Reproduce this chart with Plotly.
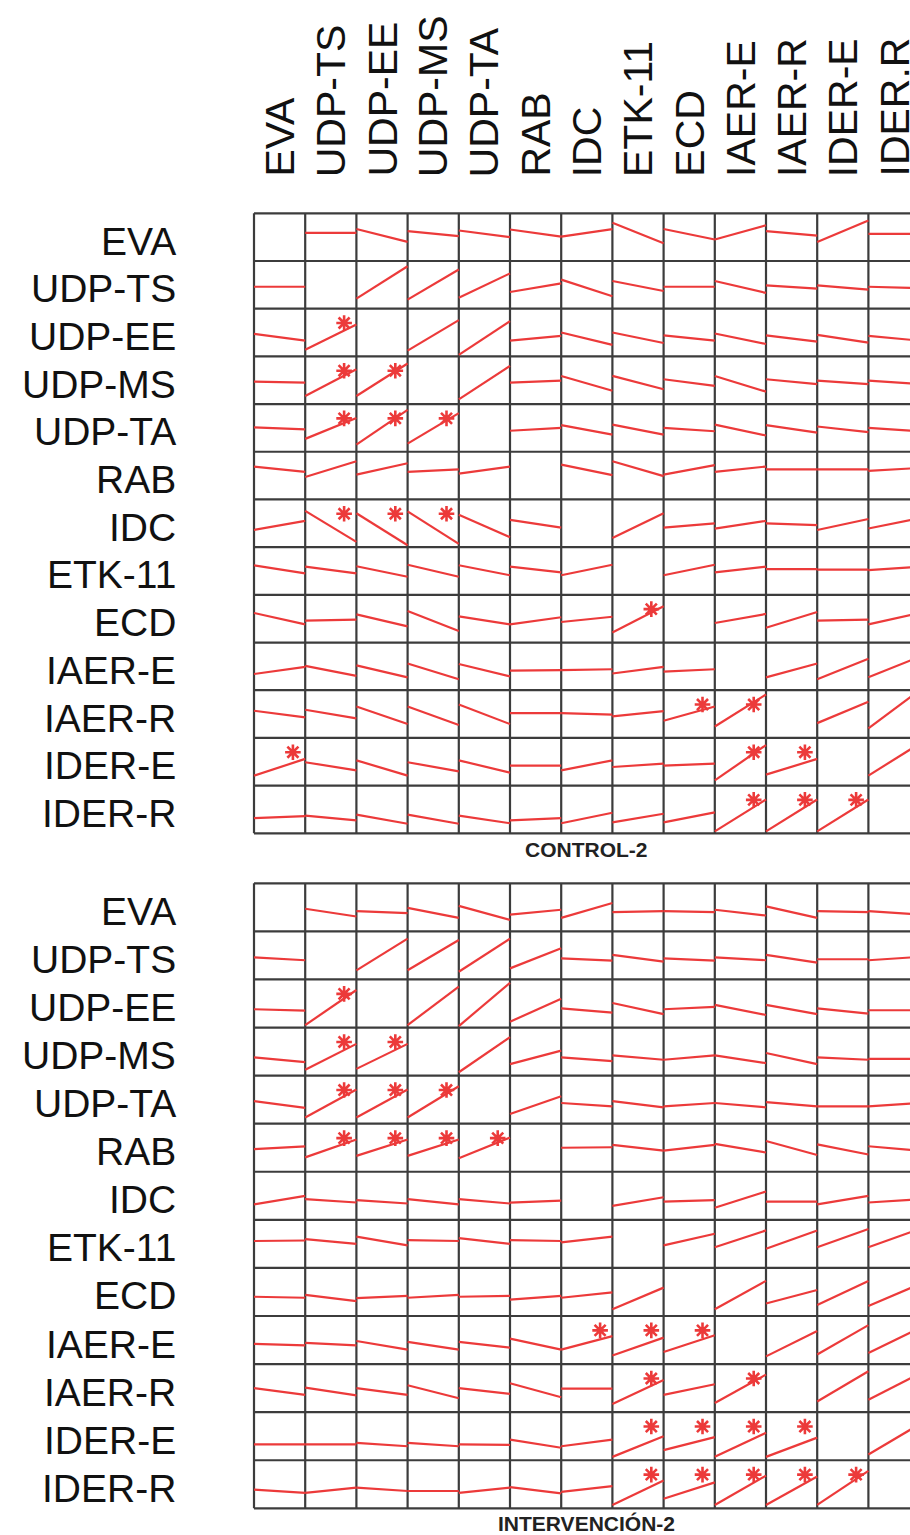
import plotly.graph_objects as go

# ---------------- data ----------------
row_labels = ["EVA", "UDP-TS", "UDP-EE", "UDP-MS", "UDP-TA", "RAB", "IDC",
              "ETK-11", "ECD", "IAER-E", "IAER-R", "IDER-E", "IDER-R"]
col_labels = ["EVA", "UDP-TS", "UDP-EE", "UDP-MS", "UDP-TA", "RAB", "IDC",
              "ETK-11", "ECD", "IAER-E", "IAER-R", "IDER-E", "IDER.R"]
panel_titles = ["CONTROL-2", "INTERVENCIÓN-2"]
N = None

# line height at left / right edge of each cell (fraction of cell height, from bottom)
control_left = [
    [N, .59, .67, .625, .64, .66, .51, .80, .67, .45, .625, .40, .57],
    [.46, N, .21, .19, .23, .35, .61, .58, .46, .58, .49, .49, .46],
    [.47, .14, N, .12, .03, .33, .50, .50, .44, .48, .44, .45, .43],
    [.47, .17, .17, N, .10, .45, .59, .59, .52, .59, .52, .49, .49],
    [.51, .27, .15, .17, N, .44, .56, .57, .50, .57, .56, .53, .50],
    [.69, .47, .52, .58, .54, N, .73, .80, .52, .58, .63, .63, .60],
    [.36, .76, .71, .75, .68, .57, N, .19, .41, .39, .50, .36, .39],
    [.62, .59, .60, .63, .62, .59, .41, N, .41, .47, .54, .53, .52],
    [.62, .46, .59, .66, .55, .38, .43, .21, N, .41, .31, .46, .38],
    [.34, .51, .52, .56, .55, .41, .42, .35, .39, N, .27, .23, .27],
    [.57, .59, .66, .66, .70, .52, .52, .45, .36, .24, N, .31, .20],
    [.21, .49, .53, .49, .53, .42, .32, .39, .42, .11, .23, N, .21],
    [.32, .37, .39, .39, .37, .27, .21, .23, .23, .04, .04, .04, N],
]
control_right = [
    [N, .59, .40, .52, .50, .51, .67, .37, .45, .75, .53, .85, .57],
    [.46, N, .89, .82, .74, .53, .26, .37, .46, .33, .42, .40, .43],
    [.33, .67, N, .76, .74, .43, .24, .28, .33, .26, .31, .29, .33],
    [.45, .73, .85, N, .80, .49, .28, .31, .38, .26, .42, .42, .42],
    [.47, .71, .88, .81, N, .50, .36, .36, .43, .34, .40, .41, .43],
    [.58, .80, .76, .63, .69, N, .51, .49, .72, .69, .63, .63, .66],
    [.55, .11, .04, .07, .21, .41, N, .71, .50, .55, .46, .59, .61],
    [.45, .45, .38, .38, .41, .47, .63, N, .63, .59, .54, .53, .59],
    [.38, .48, .34, .24, .38, .53, .54, .76, N, .60, .64, .48, .62],
    [.49, .30, .27, .23, .29, .42, .44, .49, .44, N, .56, .66, .70],
    [.43, .41, .29, .27, .29, .52, .49, .56, .66, .91, N, .76, 1.0],
    [.56, .32, .21, .30, .27, .42, .53, .46, .46, .85, .56, N, .88],
    [.36, .27, .20, .20, .21, .32, .43, .41, .44, .71, .71, .71, N],
]
control_signif = [(2, 1), (3, 1), (3, 2), (4, 1), (4, 2), (4, 3), (6, 1), (6, 2), (6, 3),
                  (8, 7), (10, 8), (10, 9), (11, 0), (11, 9), (11, 10),
                  (12, 9), (12, 10), (12, 11)]

interv_left = [
    [N, .47, .42, .49, .53, .35, .28, .40, .42, .45, .52, .42, .42],
    [.46, N, .19, .19, .16, .23, .44, .51, .44, .46, .51, .42, .40],
    [.38, .05, N, .05, .03, .12, .40, .51, .38, .47, .47, .40, .36],
    [.38, .12, .14, N, .07, .24, .38, .42, .33, .42, .47, .38, .35],
    [.47, .13, .13, .13, N, .20, .43, .47, .36, .43, .45, .36, .36],
    [.47, .30, .33, .33, .28, N, .50, .56, .44, .58, .64, .57, .53],
    [.32, .43, .41, .43, .43, .36, N, .29, .38, .25, .38, .32, .36],
    [.56, .60, .65, .58, .62, .58, .53, N, .47, .43, .40, .43, .43],
    [.40, .44, .37, .38, .40, .34, .38, .14, N, .14, .26, .23, .21],
    [.42, .44, .48, .46, .46, .53, .30, .18, .25, N, .16, .20, .23],
    [.50, .51, .50, .56, .50, .60, .49, .17, .36, .19, N, .22, .26],
    [.33, .33, .36, .36, .33, .43, .29, .07, .21, .07, .07, N, .12],
    [.39, .32, .43, .36, .32, .44, .34, .07, .20, .07, .07, .07, N],
]
interv_right = [
    [N, .31, .38, .28, .24, .45, .59, .42, .40, .33, .28, .40, .35],
    [.40, N, .85, .82, .85, .65, .39, .37, .39, .40, .35, .42, .47],
    [.35, .78, N, .85, .93, .60, .31, .28, .43, .26, .28, .29, .36],
    [.28, .66, .66, N, .80, .52, .30, .33, .42, .26, .24, .33, .35],
    [.33, .71, .71, .78, N, .57, .36, .34, .43, .34, .36, .36, .43],
    [.53, .67, .67, .67, .71, N, .51, .44, .56, .40, .35, .36, .44],
    [.50, .36, .34, .32, .34, .40, N, .47, .41, .59, .38, .50, .43],
    [.57, .50, .47, .56, .50, .56, .65, N, .71, .78, .78, .81, .81],
    [.38, .31, .42, .44, .42, .42, .49, .59, N, .73, .54, .73, .66],
    [.39, .39, .30, .30, .34, .30, .58, .55, .60, N, .69, .81, .75],
    [.36, .35, .36, .29, .38, .31, .49, .67, .58, .78, N, .85, .80],
    [.33, .33, .29, .29, .32, .26, .43, .50, .48, .57, .47, N, .75],
    [.32, .43, .36, .36, .43, .31, .46, .58, .54, .68, .66, .78, N],
]
interv_signif = [(2, 1), (3, 1), (3, 2), (4, 1), (4, 2), (4, 3),
                 (5, 1), (5, 2), (5, 3), (5, 4),
                 (9, 6), (9, 7), (9, 8), (10, 7), (10, 9),
                 (11, 7), (11, 8), (11, 9), (11, 10),
                 (12, 7), (12, 8), (12, 9), (12, 10), (12, 11)]

# ---------------- layout geometry ----------------
W, H = 910, 1535
X0, CW = 254.0, 51.2
GRIDS_PX = [(213.3, 833.3), (883.3, 1508.3)]
PAD = 0.04
NR = len(row_labels)
NC = len(col_labels)
RED = "rgb(236,58,58)"
GRID = "#3c3c3c"
FONT = "Liberation Sans, Arial, sans-serif"

fig = go.Figure()
shapes, annotations = [], []

panels = [(control_left, control_right, control_signif),
          (interv_left, interv_right, interv_signif)]

for g, (L, R, sig) in enumerate(panels):
    xa = "x" if g == 0 else "x2"
    ya = "y" if g == 0 else "y2"
    xs, ys = [], []
    for i in range(NR):
        for j in range(NC):
            if L[i][j] is None:
                continue
            base = NR - 1 - i
            xs += [j, j + 1, None]
            ys += [base + L[i][j], base + R[i][j], None]
    fig.add_trace(go.Scatter(x=xs, y=ys, mode="lines", xaxis=xa, yaxis=ya,
                             line=dict(color=RED, width=2.2),
                             hoverinfo="skip", showlegend=False))
    sx = [j + 0.76 for (i, j) in sig]
    sy = [NR - 1 - i + 0.70 for (i, j) in sig]
    fig.add_trace(go.Scatter(x=sx, y=sy, mode="markers", xaxis=xa, yaxis=ya,
                             marker=dict(symbol="asterisk-open", size=13, color=RED,
                                         line=dict(color=RED, width=2.6)),
                             hoverinfo="skip", showlegend=False))
    # grid
    for k in range(NC + 1):
        shapes.append(dict(type="line", xref=xa, yref=ya, x0=k, x1=k, y0=0, y1=NR,
                           line=dict(color=GRID, width=2.2), layer="below"))
    for k in range(NR + 1):
        shapes.append(dict(type="line", xref=xa, yref=ya, x0=0, x1=NC, y0=k, y1=k,
                           line=dict(color=GRID, width=2.2), layer="below"))
    # row labels
    for i, lab in enumerate(row_labels):
        annotations.append(dict(text=lab, xref="paper", x=178 / W, xanchor="right",
                                yref=ya, y=NR - 1 - i + 0.5, yanchor="middle", yshift=-4,
                                showarrow=False, font=dict(family=FONT, size=39, color="#111")))
    # title under the panel
    top, bot = GRIDS_PX[g]
    ty = bot + (16 if g == 0 else 15)
    annotations.append(dict(text="<b>%s</b>" % panel_titles[g], xref="paper",
                            x=(X0 + CW * NC / 2) / W, xanchor="center",
                            yref="paper", y=(H - ty) / H, yanchor="middle",
                            showarrow=False, font=dict(family=FONT, size=21, color="#222")))

# column headers (top only)
for j, lab in enumerate(col_labels):
    annotations.append(dict(text=lab, xref="x", x=j + 0.5, xanchor="center",
                            yref="paper", y=(H - 179) / H, yanchor="bottom",
                            textangle=-90, showarrow=False,
                            font=dict(family=FONT, size=41, color="#111")))

def ydom(top, bot):
    ch = (bot - top) / NR
    return [(H - (bot + PAD * ch)) / H, (H - (top - PAD * ch)) / H]

xdom = [(X0 - PAD * CW) / W, 1.0]
xr = [-PAD, (W - X0) / CW]
yr = [-PAD, NR + PAD]
axis_common = dict(visible=False, fixedrange=True)

fig.update_layout(
    width=W, height=H,
    margin=dict(l=0, r=0, t=0, b=0),
    paper_bgcolor="white", plot_bgcolor="white",
    xaxis=dict(domain=xdom, range=xr, anchor="y", **axis_common),
    yaxis=dict(domain=ydom(*GRIDS_PX[0]), range=yr, anchor="x", **axis_common),
    xaxis2=dict(domain=xdom, range=xr, anchor="y2", **axis_common),
    yaxis2=dict(domain=ydom(*GRIDS_PX[1]), range=yr, anchor="x2", **axis_common),
    shapes=shapes, annotations=annotations, showlegend=False,
)

fig.write_html("out.html")
